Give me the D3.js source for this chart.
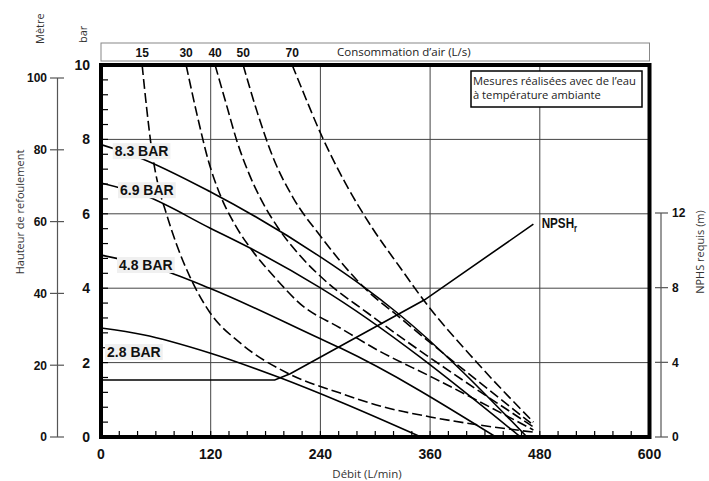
<!DOCTYPE html>
<html><head><meta charset="utf-8">
<script src="https://cdn.jsdelivr.net/npm/d3@7"></script>
<style>body{margin:0;background:#fff}</style>
</head><body><svg id="c" width="709" height="481"></svg>
<script>
// ---------- data ----------
const flowTicks = [0, 120, 240, 360, 480, 600];
const barTicks = [0, 2, 4, 6, 8, 10];
const metreTicks = [0, 20, 40, 60, 80, 100];
const npshTicks = [0, 4, 8, 12];
const airLabels = ["15", "30", "40", "50", "70"];
const pressureLabels = ["8.3 BAR", "6.9 BAR", "4.8 BAR", "2.8 BAR"];

// pressure curves: [flow L/min, head bar]
const p83 = [[0,7.86],[40,7.53],[119,6.6],[240,4.84],[287,4.04],[324,3.34],[466,0]];
const p69 = [[0,6.83],[48,6.49],[119,5.62],[163,5.08],[240,4.01],[459,0]];
const p48 = [[0,4.89],[67,4.49],[119,4.0],[240,2.64],[262,2.39],[432,0]];
const p28 = [[0,2.93],[46,2.75],[119,2.26],[196,1.59],[262,0.94],[350,0]];

// air consumption curves (L/s): [flow L/min, head bar]
const a15 = [[45,10],[50.4,8.74],[55.8,7.67],[62.4,6.78],[71.2,6.03],[83.2,5.14],[97.4,4.30],[119.3,3.34],[152.2,2.53],[203.7,1.72],[261.7,1.18],[308.8,0.81],[360.2,0.54],[473,0.13]];
const a30 = [[93.1,10],[105.1,8.66],[117.2,7.45],[130.3,6.51],[146.7,5.70],[166.4,4.98],[190.5,4.28],[217.9,3.58],[261.7,2.93],[302.2,2.34],[363.5,1.59],[473,0.19]];
const a40 = [[124.8,10],[136.9,8.96],[148.9,7.94],[161.0,7.13],[175.2,6.38],[193.8,5.62],[217.9,4.87],[245.3,4.20],[291.3,3.34],[473,0.27]];
const a50 = [[155.5,10],[170.8,8.74],[188.3,7.51],[210.2,6.43],[239.8,5.41],[286.9,4.04],[327.4,3.20],[473,0.32]];
const a70 = [[209.1,10],[217.9,9.47],[241.9,8.07],[267.2,6.83],[296.7,5.62],[327.4,4.55],[352.6,3.69],[411.7,1.99],[473,0.40]];

// NPSHr: [flow L/min, metres]
const npsh = [[0,3.05],[190,3.05],[207,3.39],[354,7.35],[473,11.4]];

// ---------- drawing ----------
const svg = d3.select("#c");
const L = 101, R = 649.5, T = 65, B = 437;
const x = d3.scaleLinear([0, 600], [L, R]);
const y = d3.scaleLinear([0, 10], [B, T]);
const yM = d3.scaleLinear([0, 100], [B, 78]);
const yN = d3.scaleLinear([0, 12], [B, 213]);

const boldFont = "'Liberation Sans', Arial, sans-serif";
const lightFont = "'Open Sans', 'Noto Sans', sans-serif";

svg.append("defs").append("clipPath").attr("id", "plot")
  .append("rect").attr("x", L).attr("y", T).attr("width", R - L).attr("height", B - T);

// gridlines
const grid = svg.append("g").attr("stroke", "#444").attr("stroke-width", 1);
flowTicks.filter(d => d > 0 && d < 600).forEach(d =>
  grid.append("line").attr("x1", x(d)).attr("x2", x(d)).attr("y1", T).attr("y2", B));
barTicks.filter(d => d > 0 && d < 10).forEach(d =>
  grid.append("line").attr("x1", L).attr("x2", R).attr("y1", y(d)).attr("y2", y(d)));

// minor ticks
const minor = svg.append("g").attr("stroke", "#000").attr("stroke-width", 1.2);
d3.range(1, 25).forEach(k => {
  const v = k * 0.4;
  minor.append("line").attr("x1", L).attr("x2", L + 7).attr("y1", y(v)).attr("y2", y(v));
});
d3.range(1, 30).forEach(k => {
  const v = k * 20;
  minor.append("line").attr("x1", x(v)).attr("x2", x(v)).attr("y1", B).attr("y2", B - 6);
});

// curves
const plot = svg.append("g").attr("clip-path", "url(#plot)");
const line = d3.line().x(d => x(d[0])).y(d => y(d[1])).curve(d3.curveMonotoneX);
[a15, a30, a40, a50, a70].forEach(s =>
  plot.append("path").attr("d", line(s)).attr("fill", "none")
    .attr("stroke", "#000").attr("stroke-width", 1.6).attr("stroke-dasharray", "10,4"));
[p83, p69, p48, p28].forEach(s =>
  plot.append("path").attr("d", line(s)).attr("fill", "none")
    .attr("stroke", "#000").attr("stroke-width", 1.6));
const lineN = d3.line().x(d => x(d[0])).y(d => yN(d[1]));
plot.append("path").attr("d", lineN(npsh)).attr("fill", "none")
  .attr("stroke", "#000").attr("stroke-width", 1.6);

// pressure labels
const labelPos = [[15, 7.55], [20.8, 6.5], [19.7, 4.49], [6.6, 2.15]];
pressureLabels.forEach((t, i) => {
  const g = svg.append("g");
  const tx = g.append("text").attr("x", x(labelPos[i][0])).attr("y", y(labelPos[i][1]))
    .attr("font-family", boldFont).attr("font-weight", "bold").attr("font-size", 14)
    .attr("fill", "#111").text(t);
  const bb = tx.node().getBBox();
  g.insert("rect", "text").attr("x", bb.x - 2).attr("y", bb.y).attr("width", bb.width + 4)
    .attr("height", bb.height).attr("fill", "#f0f0f0");
});

// NPSHr label (condensed)
const nl = svg.append("text")
  .attr("transform", `translate(${x(482)},${yN(11.2)}) scale(0.78,1)`)
  .attr("font-family", boldFont).attr("font-weight", "bold").attr("font-size", 15).attr("fill", "#111");
nl.append("tspan").text("NPSH");
nl.append("tspan").attr("font-size", 10).attr("dy", 4).text("r");

// legend box
svg.append("rect").attr("x", 471).attr("y", 71).attr("width", 171).attr("height", 36)
  .attr("fill", "#fff").attr("stroke", "#000").attr("stroke-width", 1.5);
svg.append("text").attr("x", 473).attr("y", 85).attr("font-family", lightFont)
  .attr("font-size", 11.2).attr("fill", "#222").text("Mesures réalisées avec de l’eau");
svg.append("text").attr("x", 473).attr("y", 99).attr("font-family", lightFont)
  .attr("font-size", 11.2).attr("fill", "#222").text("à température ambiante");

// frame
svg.append("rect").attr("x", L).attr("y", T).attr("width", R - L).attr("height", B - T)
  .attr("fill", "none").attr("stroke", "#000").attr("stroke-width", 4);

// top header box (air consumption)
svg.append("rect").attr("x", L).attr("y", 43).attr("width", R - L).attr("height", 18)
  .attr("fill", "#fff").attr("stroke", "#888").attr("stroke-width", 1);
[a15, a30, a40, a50, a70].forEach((s, i) =>
  svg.append("text").attr("x", x(s[0][0])).attr("y", 57).attr("text-anchor", "middle")
    .attr("font-family", boldFont).attr("font-weight", "bold").attr("font-size", 12)
    .attr("fill", "#111").text(airLabels[i]));
svg.append("text").attr("x", 337).attr("y", 55.5).attr("font-family", lightFont)
  .attr("font-size", 11.5).attr("fill", "#222").text("Consommation d’air (L/s)");

// bottom axis labels
flowTicks.forEach(d =>
  svg.append("text").attr("x", x(d)).attr("y", 459).attr("text-anchor", "middle")
    .attr("font-family", boldFont).attr("font-weight", "bold").attr("font-size", 14)
    .attr("fill", "#111").text(d));
svg.append("text").attr("x", 367).attr("y", 478).attr("text-anchor", "middle")
  .attr("font-family", lightFont).attr("font-size", 11.5).attr("fill", "#333").text("Débit (L/min)");

// bar axis labels
barTicks.forEach(d =>
  svg.append("text").attr("x", 90).attr("y", y(d)).attr("dy", "0.36em").attr("text-anchor", "end")
    .attr("font-family", boldFont).attr("font-weight", "bold").attr("font-size", 14)
    .attr("fill", "#111").text(d));

// metre axis
const mg = svg.append("g");
mg.append("line").attr("x1", 57.5).attr("x2", 57.5).attr("y1", yM(100)).attr("y2", yM(0))
  .attr("stroke", "#555").attr("stroke-width", 1.2);
metreTicks.forEach(d => {
  mg.append("line").attr("x1", 50).attr("x2", 64).attr("y1", yM(d)).attr("y2", yM(d))
    .attr("stroke", "#555").attr("stroke-width", 1.2);
  mg.append("text").attr("x", 47).attr("y", yM(d)).attr("dy", "0.36em").attr("text-anchor", "end")
    .attr("font-family", boldFont).attr("font-weight", "bold").attr("font-size", 12)
    .attr("fill", "#111").text(d);
});

// NPSH axis
const ng = svg.append("g");
ng.append("line").attr("x1", 661).attr("x2", 661).attr("y1", yN(12)).attr("y2", yN(0))
  .attr("stroke", "#555").attr("stroke-width", 1.2);
npshTicks.forEach(d => {
  ng.append("line").attr("x1", 655).attr("x2", 668).attr("y1", yN(d)).attr("y2", yN(d))
    .attr("stroke", "#555").attr("stroke-width", 1.2);
  ng.append("text").attr("x", 672).attr("y", yN(d)).attr("dy", "0.36em")
    .attr("font-family", boldFont).attr("font-weight", "bold").attr("font-size", 12)
    .attr("fill", "#111").text(d);
});

// rotated titles
function vtext(t, cx, cy, anchor) {
  svg.append("text").attr("transform", `translate(${cx},${cy}) rotate(-90)`)
    .attr("text-anchor", anchor).attr("font-family", lightFont).attr("font-size", 11)
    .attr("fill", "#333").text(t);
}
vtext("Mètre", 44, 44, "start");
vtext("bar", 87, 43, "start");
vtext("Hauteur de refoulement", 24, 212, "middle");
vtext("NPHS requis (m)", 704, 252, "middle");
</script></body></html>
